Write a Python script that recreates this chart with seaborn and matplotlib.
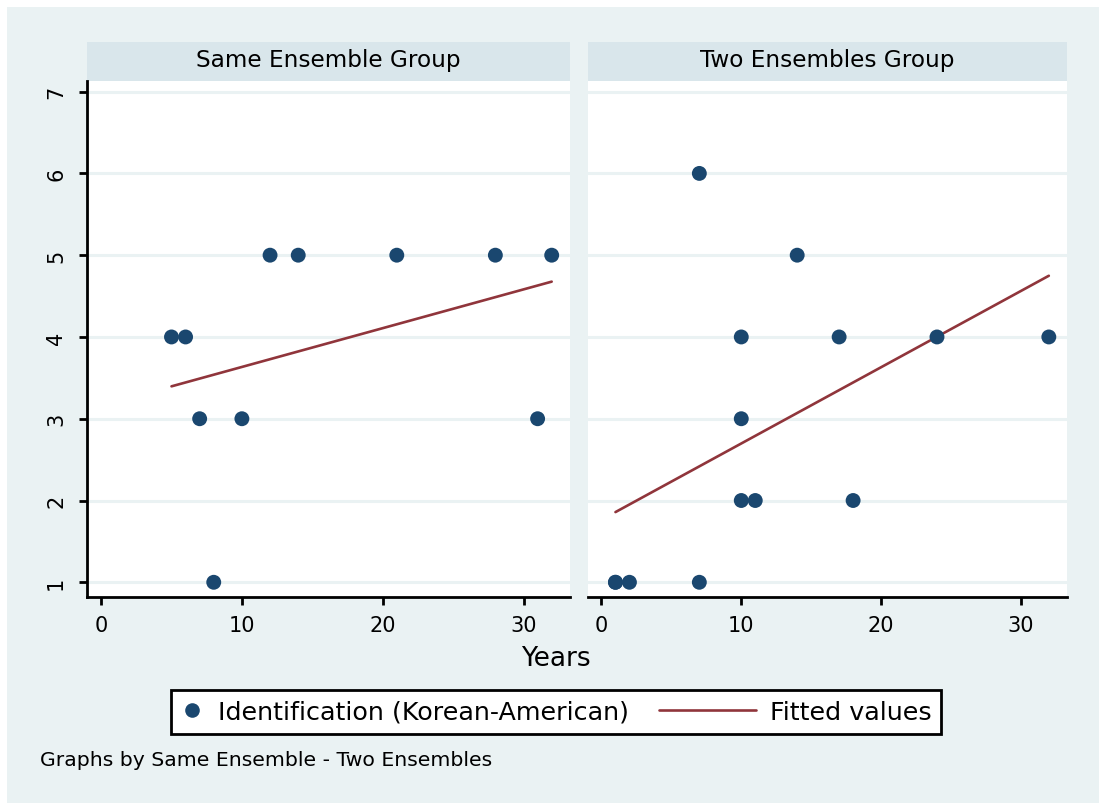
import numpy as np
import pandas as pd
import matplotlib
matplotlib.use("Agg")
import matplotlib.pyplot as plt
from matplotlib.patches import Rectangle
from matplotlib.lines import Line2D
from matplotlib.legend_handler import HandlerBase
import seaborn as sns

# ---- data ----
group_names = ["Same Ensemble Group", "Two Ensembles Group"]
same_years = [5, 6, 7, 8, 10, 12, 14, 21, 28, 31, 32]
same_ident = [4, 4, 3, 1, 3, 5, 5, 5, 5, 3, 5]
two_years = [1, 1, 2, 7, 7, 10, 10, 10, 11, 14, 17, 18, 24, 32]
two_ident = [1, 1, 1, 1, 6, 4, 3, 2, 2, 5, 4, 2, 4, 4]
x_ticks = [0, 10, 20, 30]
y_ticks = [1, 2, 3, 4, 5, 6, 7]

df = pd.DataFrame({
    "Years": same_years + two_years,
    "Ident": same_ident + two_ident,
    "Group": [group_names[0]] * len(same_years) + [group_names[1]] * len(two_years),
})

BG = "#EAF2F3"
STRIP = "#D9E6EB"
NAVY = "#1A476F"
RED = "#90353B"
GRID = "#EAF2F3"

sns.set_style("white")
plt.rcParams["font.family"] = ["DejaVu Sans"]
plt.rcParams.update({"text.color": "black", "xtick.color": "black", "ytick.color": "black",
                     "axes.labelcolor": "black", "xtick.bottom": True, "ytick.left": True})

W, H = 1099, 804
g = sns.FacetGrid(df, col="Group", col_order=group_names, sharex=True, sharey=True)
g.figure.set_size_inches(W / 100, H / 100)
g.figure.set_dpi(100)
fig = g.figure
fig.patch.set_facecolor(BG)
fig.patches.append(Rectangle((0, 1 - 8 / H), 1, 8 / H, transform=fig.transFigure,
                             facecolor="white", edgecolor="none", zorder=-10))
fig.patches.append(Rectangle((0, 0), 7 / W, 1, transform=fig.transFigure,
                             facecolor="white", edgecolor="none", zorder=-10))

g.map_dataframe(sns.regplot, x="Years", y="Ident", scatter=False, ci=None,
                line_kws=dict(color=RED, lw=1.9, zorder=3))
g.map_dataframe(sns.scatterplot, x="Years", y="Ident", color=NAVY, s=115,
                edgecolor="none", zorder=4)

# axes positions (pixels)
pos = [(87, 570), (587.5, 1067)]
top_px, bot_px = 82, 598
for i, ax in enumerate(g.axes.flat):
    x0, x1 = pos[i]
    ax.set_position([x0 / W, 1 - bot_px / H, (x1 - x0) / W, (bot_px - top_px) / H])
    ax.set_facecolor("white")
    ax.set_xlim(-1.0, 33.3)
    ax.set_ylim(0.82, 7.13)
    ax.set_xticks(x_ticks)
    ax.set_yticks(y_ticks)
    for y in y_ticks:
        ax.axhline(y, color=GRID, lw=2.2, zorder=1)
    ax.set_title("")
    ax.set_xlabel("")
    ax.set_ylabel("")
    for s in ["top", "right"]:
        ax.spines[s].set_visible(False)
    ax.spines["bottom"].set_color("black")
    ax.spines["bottom"].set_linewidth(2)
    ax.tick_params(axis="x", bottom=True, length=6, width=2, labelsize=15, pad=7,
                   color="black", labelcolor="black")
    if i == 0:
        ax.spines["left"].set_color("black")
        ax.spines["left"].set_linewidth(2)
        ax.tick_params(axis="y", left=True, length=6, width=2, labelsize=15, pad=9,
                       color="black", labelcolor="black")
        for lab in ax.get_yticklabels():
            lab.set_rotation(90)
            lab.set_va("center")
    else:
        ax.spines["left"].set_visible(False)
        ax.tick_params(axis="y", left=False, labelleft=False)
    # strip header
    fig.patches.append(Rectangle((x0 / W, 1 - 82 / H), (x1 - x0) / W, 39 / H,
                                 transform=fig.transFigure, facecolor=STRIP,
                                 edgecolor="none", zorder=-5))
    fig.text((x0 + x1) / 2 / W, 1 - 60 / H, group_names[i], ha="center", va="center",
             fontsize=16.7, color="black")

fig.text(556 / W, 1 - 659 / H, "Years", ha="center", va="center", fontsize=19)


class MarkerHandler(HandlerBase):
    def create_artists(self, legend, orig_handle, xdescent, ydescent, width, height,
                       fontsize, trans):
        m = Line2D([width / 2 - xdescent], [height / 2 - ydescent], marker="o", ls="none",
                   color=NAVY, markersize=10.5, markeredgewidth=0, transform=trans)
        return [m]


class LongLineHandler(HandlerBase):
    def create_artists(self, legend, orig_handle, xdescent, ydescent, width, height,
                       fontsize, trans):
        x_end = width - xdescent
        ln = Line2D([x_end - 97 * 0.72, x_end], [height / 2 - ydescent] * 2, color=RED,
                    lw=1.9, transform=trans)
        return [ln]


h1 = Line2D([], [], marker="o", ls="none", color=NAVY)
h2 = Line2D([], [], color=RED)
leg = fig.legend([h1, h2], ["Identification (Korean-American)", "Fitted values"],
                 handler_map={h1: MarkerHandler(), h2: LongLineHandler()},
                 loc="center", bbox_to_anchor=(556 / W, 1 - 713 / H),
                 ncol=2, frameon=True, fancybox=False, fontsize=18.3, handlelength=0.9,
                 columnspacing=4.1, handletextpad=0.55, borderpad=0.4)
leg.get_frame().set_edgecolor("black")
leg.get_frame().set_linewidth(2)
leg.get_frame().set_facecolor("white")
leg.get_frame().set_alpha(1)

fig.text(40 / W, 1 - 761 / H, "Graphs by Same Ensemble - Two Ensembles", ha="left",
         va="center", fontsize=14.7)

fig.savefig("out.png", dpi=100, facecolor=fig.get_facecolor())
